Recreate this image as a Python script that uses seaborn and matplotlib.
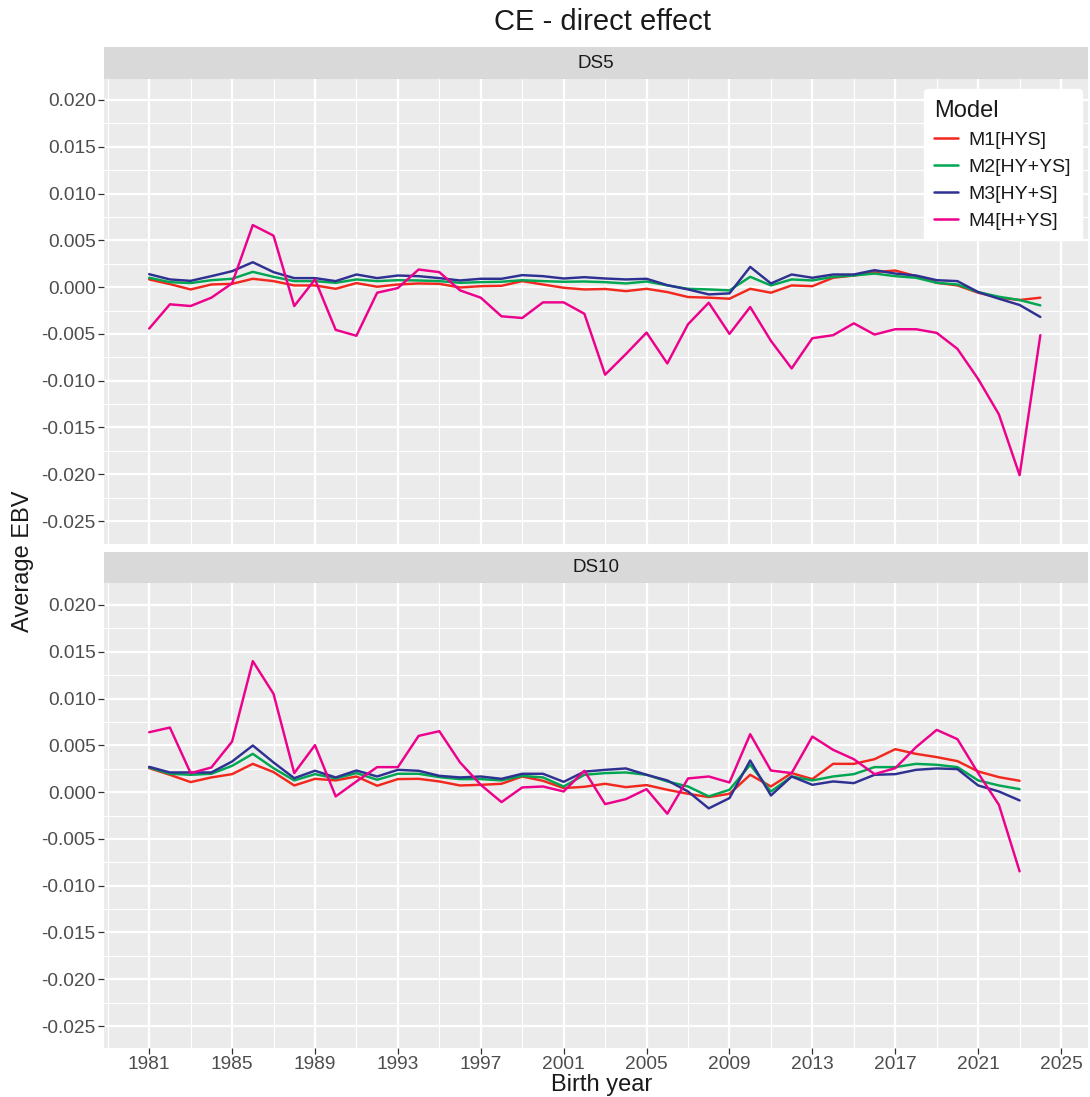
import numpy as np
import pandas as pd
import seaborn as sns
import matplotlib.pyplot as plt
from matplotlib.ticker import FixedLocator

# ---- data ----
years_ds5 = list(range(1981, 2025))
years_ds10 = list(range(1981, 2024))

m1_ds5 = [0.00082, 0.00032, -0.00025, 0.00028, 0.00035, 0.00089, 0.00064, 0.00018, 0.00018, -0.00018,
          0.00043, 0.00004, 0.00028, 0.00039, 0.00035, -0.00004, 0.00010, 0.00014, 0.00064, 0.00028,
          -0.00007, -0.00025, -0.00020, -0.00043, -0.00018, -0.00053, -0.00106, -0.00113, -0.00124, -0.00018,
          -0.00060, 0.00018, 0.00010, 0.00100, 0.00124, 0.00160, 0.00177, 0.00117, 0.00046, 0.00018,
          -0.00060, -0.00113, -0.00138, -0.00113]
m2_ds5 = [0.00100, 0.00053, 0.00043, 0.00074, 0.00089, 0.00163, 0.00110, 0.00064, 0.00064, 0.00046,
          0.00082, 0.00064, 0.00074, 0.00071, 0.00064, 0.00046, 0.00053, 0.00057, 0.00074, 0.00064,
          0.00057, 0.00060, 0.00053, 0.00039, 0.00060, 0.00018, -0.00018, -0.00025, -0.00035, 0.00110,
          0.00018, 0.00082, 0.00071, 0.00110, 0.00124, 0.00145, 0.00117, 0.00100, 0.00046, 0.00028,
          -0.00053, -0.00103, -0.00138, -0.00195]
m3_ds5 = [0.00138, 0.00082, 0.00067, 0.00117, 0.00170, 0.00266, 0.00160, 0.00096, 0.00096, 0.00064,
          0.00135, 0.00096, 0.00124, 0.00117, 0.00096, 0.00071, 0.00089, 0.00089, 0.00128, 0.00117,
          0.00092, 0.00106, 0.00092, 0.00082, 0.00089, 0.00021, -0.00025, -0.00078, -0.00067, 0.00216,
          0.00039, 0.00135, 0.00100, 0.00135, 0.00135, 0.00181, 0.00145, 0.00124, 0.00074, 0.00064,
          -0.00053, -0.00124, -0.00191, -0.00319]
m4_ds5 = [-0.00443, -0.00184, -0.00202, -0.00113, 0.00040, 0.00663, 0.00550, -0.00202, 0.00082, -0.00457,
          -0.00520, -0.00060, -0.00010, 0.00188, 0.00160, -0.00035, -0.00113, -0.00312, -0.00330, -0.00163,
          -0.00163, -0.00285, -0.00936, -0.00716, -0.00486, -0.00816, -0.00397, -0.00167, -0.00500, -0.00213,
          -0.00574, -0.00869, -0.00546, -0.00514, -0.00387, -0.00507, -0.00450, -0.00450, -0.00489, -0.00660,
          -0.00982, -0.01360, -0.02010, -0.00514]

m1_ds10 = [0.00256, 0.00185, 0.00107, 0.00157, 0.00192, 0.00302, 0.00214, 0.00071, 0.00142, 0.00125,
           0.00167, 0.00068, 0.00139, 0.00142, 0.00114, 0.00071, 0.00078, 0.00089, 0.00167, 0.00121,
           0.00043, 0.00057, 0.00089, 0.00053, 0.00075, 0.00025, -0.00018, -0.00053, -0.00018, 0.00185,
           0.00060, 0.00203, 0.00139, 0.00302, 0.00302, 0.00352, 0.00459, 0.00409, 0.00374, 0.00331,
           0.00221, 0.00160, 0.00121]
m2_ds10 = [0.00263, 0.00196, 0.00185, 0.00196, 0.00281, 0.00409, 0.00256, 0.00125, 0.00192, 0.00146,
           0.00203, 0.00132, 0.00196, 0.00196, 0.00160, 0.00139, 0.00139, 0.00125, 0.00174, 0.00157,
           0.00060, 0.00185, 0.00203, 0.00210, 0.00185, 0.00114, 0.00060, -0.00046, 0.00025, 0.00292,
           0.00007, 0.00167, 0.00125, 0.00167, 0.00192, 0.00267, 0.00267, 0.00302, 0.00292, 0.00267,
           0.00125, 0.00071, 0.00032]
m3_ds10 = [0.00270, 0.00210, 0.00210, 0.00210, 0.00327, 0.00498, 0.00317, 0.00149, 0.00228, 0.00157,
           0.00231, 0.00167, 0.00238, 0.00228, 0.00174, 0.00157, 0.00167, 0.00142, 0.00196, 0.00196,
           0.00110, 0.00219, 0.00238, 0.00253, 0.00185, 0.00125, 0.00007, -0.00174, -0.00064, 0.00338,
           -0.00036, 0.00167, 0.00078, 0.00114, 0.00096, 0.00185, 0.00192, 0.00238, 0.00253, 0.00246,
           0.00071, 0.00007, -0.00089]
m4_ds10 = [0.00640, 0.00690, 0.00203, 0.00263, 0.00540, 0.01400, 0.01050, 0.00203, 0.00502, -0.00046,
           0.00114, 0.00267, 0.00267, 0.00601, 0.00651, 0.00317, 0.00078, -0.00107, 0.00050, 0.00060,
           0.00007, 0.00228, -0.00128, -0.00075, 0.00032, -0.00231, 0.00146, 0.00167, 0.00103, 0.00619,
           0.00231, 0.00203, 0.00594, 0.00452, 0.00352, 0.00192, 0.00256, 0.00480, 0.00665, 0.00566,
           0.00203, -0.00135, -0.00847]

models = ["M1[HYS]", "M2[HY+YS]", "M3[HY+S]", "M4[H+YS]"]
model_colors = ["#F2281E", "#00A651", "#2E3192", "#EC008C"]
panels = ["DS5", "DS10"]


def build_frame():
    rows = []
    series = {
        "DS5": (years_ds5, [m1_ds5, m2_ds5, m3_ds5, m4_ds5]),
        "DS10": (years_ds10, [m1_ds10, m2_ds10, m3_ds10, m4_ds10]),
    }
    for ds, (yrs, vals) in series.items():
        for model, v in zip(models, vals):
            rows.append(pd.DataFrame({"year": yrs, "ebv": v, "Model": model, "ds": ds}))
    return pd.concat(rows, ignore_index=True)


df = build_frame()

sns.set_theme(style="darkgrid")
plt.rcParams["font.family"] = ["Liberation Sans", "DejaVu Sans"]
plt.rcParams["axes.unicode_minus"] = False

W, H = 1090, 1097
fig = plt.figure(figsize=(W / 100, H / 100), dpi=100)
fig.patch.set_facecolor("white")

left, right = 104 / W, 1088 / W
# (strip top, panel top, panel bottom) in pixels
layout = {"DS5": (47, 79, 545), "DS10": (552, 583, 1048)}
ylims = {"DS5": (-0.02756, 0.02224), "DS10": (-0.02735, 0.02235)}

yticks = [-0.025, -0.020, -0.015, -0.010, -0.005, 0.0, 0.005, 0.010, 0.015, 0.020]
xticks = list(range(1981, 2026, 4))

for ds in panels:
    s_top, p_top, p_bot = layout[ds]
    ax = fig.add_axes([left, 1 - p_bot / H, right - left, (p_bot - p_top) / H])
    ax.set_facecolor("#EBEBEB")
    sns.lineplot(
        ax=ax,
        data=df[df["ds"] == ds],
        x="year",
        y="ebv",
        hue="Model",
        hue_order=models,
        palette=model_colors,
        linewidth=1.75,
        legend=(ds == "DS5"),
    )
    ax.set_xlim(1978.82, 2026.3)
    ax.set_ylim(*ylims[ds])
    ax.yaxis.set_major_locator(FixedLocator(yticks))
    ax.set_yticklabels([f"{t:.3f}" for t in yticks])
    ax.yaxis.set_minor_locator(FixedLocator([t + 0.0025 for t in yticks] + [-0.0275]))
    ax.xaxis.set_major_locator(FixedLocator(xticks))
    ax.xaxis.set_minor_locator(FixedLocator([x - 2 for x in xticks]))
    ax.grid(which="major", color="white", linewidth=1.6)
    ax.grid(which="minor", color="white", linewidth=0.8)
    for sp in ax.spines.values():
        sp.set_visible(False)
    ax.tick_params(axis="y", which="major", left=True, length=4, width=0.9, color="#333333",
                   labelsize=13.8, labelcolor="#4D4D4D", pad=2)
    ax.tick_params(which="minor", length=0)
    if ds == "DS10":
        ax.set_xticklabels([str(x) for x in xticks])
        ax.tick_params(axis="x", which="major", bottom=True, length=4, width=0.9, color="#333333",
                       labelsize=13.8, labelcolor="#4D4D4D", pad=2)
    else:
        ax.tick_params(axis="x", which="major", bottom=False, labelbottom=False)
    ax.set_xlabel("")
    ax.set_ylabel("")

    # facet strip
    sax = fig.add_axes([left, 1 - p_top / H, right - left, (p_top - s_top) / H])
    sax.set_facecolor("#D9D9D9")
    sax.set_xticks([])
    sax.set_yticks([])
    for sp in sax.spines.values():
        sp.set_visible(False)
    sax.text(0.5, 0.5, ds, ha="center", va="center", fontsize=13.5, color="#1A1A1A",
             transform=sax.transAxes)

    if ds == "DS5":
        leg = ax.legend(title="Model", loc="upper right", bbox_to_anchor=(0.9935, 0.978),
                        frameon=True, fontsize=14, title_fontsize=17, alignment="left",
                        handlelength=1.2, handletextpad=0.55, labelspacing=0.48,
                        borderpad=0.55, borderaxespad=0.0)
        leg.get_frame().set_facecolor("white")
        leg.get_frame().set_edgecolor("white")
        leg.get_frame().set_alpha(1.0)
        for t in leg.get_texts():
            t.set_color("#1A1A1A")
        leg.get_title().set_color("#1A1A1A")
        for line in leg.get_lines():
            line.set_linewidth(1.8)

fig.text(603 / W, 1 - 22 / H, "CE - direct effect", ha="center", va="center",
         fontsize=21, color="#1A1A1A")
fig.text(602 / W, 1 - 1085 / H, "Birth year", ha="center", va="center",
         fontsize=17, color="#1A1A1A")
fig.text(23 / W, 1 - 561 / H, "Average EBV", ha="center", va="center",
         rotation=90, fontsize=17, color="#1A1A1A")

fig.savefig("out.png", dpi=100)
